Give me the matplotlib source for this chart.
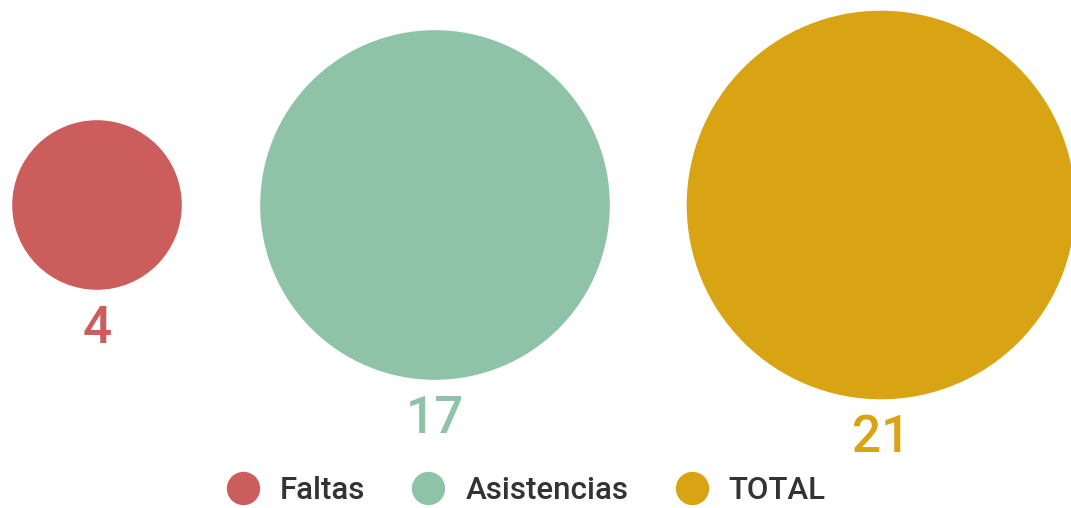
import matplotlib
matplotlib.use("Agg")
import matplotlib.pyplot as plt
from matplotlib.patches import Circle
from matplotlib.lines import Line2D
import numpy as np

categories = ["Faltas", "Asistencias", "TOTAL"]
values = [4, 17, 21]
colors = ["#CB5D5D", "#8FC3A8", "#D8A413"]

plt.rcParams["font.family"] = ["Roboto", "DejaVu Sans"]

fig = plt.figure(figsize=(10.71, 5.08), dpi=100)
ax = fig.add_axes([0, 0, 1, 1])
ax.set_xlim(0, 1071)
ax.set_ylim(508, 0)
ax.set_axis_off()

# bubble area proportional to value
scale = 42.4
centers_x = [97, 435, 881]
center_y = 205

for cx, v, c in zip(centers_x, values, colors):
    r = scale * np.sqrt(v)
    ax.add_patch(Circle((cx, center_y), r, color=c, lw=0))
    ax.text(cx, center_y + r + 53, str(v), color=c, fontsize=37,
            fontweight="medium", ha="center", va="baseline")

handles = [Line2D([], [], marker="o", ls="", markersize=24, color=c,
                  markeredgewidth=0) for c in colors]
ax.legend(handles, categories, loc="center", bbox_to_anchor=(0.49, 0.034),
          ncol=3, frameon=False, prop={"size": 22.5, "weight": "medium"},
          labelcolor="#333333", handletextpad=0.58, columnspacing=1.43,
          handlelength=1.2, borderpad=0)

fig.savefig("out.png", dpi=100)
